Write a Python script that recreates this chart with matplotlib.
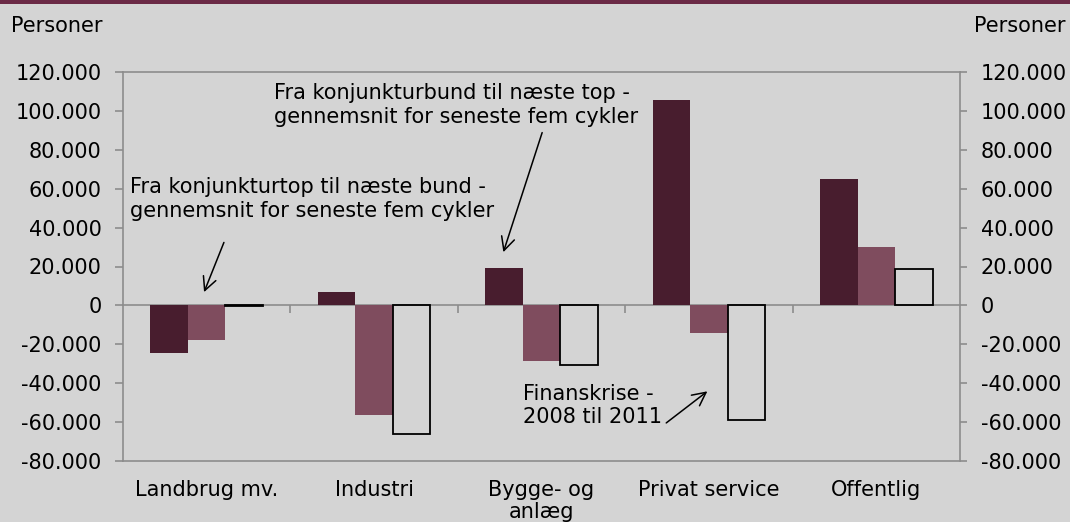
import numpy as np
import matplotlib
matplotlib.use("Agg")
import matplotlib.pyplot as plt
from matplotlib.patches import Rectangle
from matplotlib.ticker import FuncFormatter, MultipleLocator

# data
categories = ["Landbrug mv.", "Industri", "Bygge- og\nanlæg", "Privat service", "Offentlig"]
bund_til_top = [-24500, 6700, 19000, 105600, 65200]
top_til_bund = [-17600, -56100, -28400, -14000, 30000]
finanskrise = [-400, -66000, -30500, -58700, 18500]

BG = "#d4d4d4"
DARK = "#481d2e"
MAUVE = "#7f4c5e"
AXIS = "#8c8c8c"
FS = 15

plt.rcParams["font.family"] = ["DejaVu Sans"]
plt.rcParams["font.size"] = FS

fig = plt.figure(figsize=(10.7, 5.22), dpi=100, facecolor=BG)
ax = fig.add_axes([123 / 1070, 1 - 461 / 522, (960 - 123) / 1070, (461 - 72) / 522])
ax.set_facecolor(BG)

x = np.arange(len(categories))
w = 0.224
ax.bar(x - w, bund_til_top, w, color=DARK, zorder=2)
ax.bar(x, top_til_bund, w, color=MAUVE, zorder=2)
ax.bar(x + w, finanskrise, w, facecolor="none", edgecolor="black", lw=1.3, zorder=2)

ax.set_xlim(-0.5, len(categories) - 0.5)
ax.set_ylim(-80000, 120000)

for s in ax.spines.values():
    s.set_color(AXIS)
    s.set_linewidth(1.2)

fmt = FuncFormatter(lambda v, p: f"{int(v):,}".replace(",", "."))
ax.yaxis.set_major_locator(MultipleLocator(20000))
ax.yaxis.set_major_formatter(fmt)
ax.tick_params(axis="y", length=5.8, width=1.2, color=AXIS, pad=9.6, labelsize=FS)

axr = ax.twinx()
axr.set_ylim(ax.get_ylim())
axr.yaxis.set_major_locator(MultipleLocator(20000))
axr.yaxis.set_major_formatter(fmt)
axr.tick_params(axis="y", length=5.2, width=1.2, color=AXIS, pad=9.8, labelsize=FS)
for s in axr.spines.values():
    s.set_visible(False)

ax.set_xticks(x, categories)
ax.tick_params(axis="x", length=0, pad=13.5, labelsize=FS)
for lbl in ax.get_xticklabels():
    lbl.set_linespacing(1.15)

# zero line with category separators
zero = ax.secondary_xaxis(80000 / 200000)
zero.set_xticks(x[:-1] + 0.5)
zero.set_xticklabels([])
zero.tick_params(axis="x", direction="out", length=6, width=1.2, color=AXIS)
zero.spines["bottom"].set_color(AXIS)
zero.spines["bottom"].set_linewidth(1.2)

arrow = dict(arrowstyle="->", color="black", lw=1.1, mutation_scale=24)
ax.annotate("Fra konjunkturtop til næste bund -\ngennemsnit for seneste fem cykler",
            xy=(-0.022, 5500), xytext=(-0.46, 54500), ha="left", va="center",
            fontsize=FS, linespacing=1.25)
ax.annotate("", xy=(-0.022, 5500), xytext=(0.109, 33700), arrowprops=arrow)

ax.annotate("Fra konjunkturbund til næste top -\ngennemsnit for seneste fem cykler",
            xy=(1.767, 26000), xytext=(0.405, 103000), ha="left", va="center",
            fontsize=FS, linespacing=1.2)
ax.annotate("", xy=(1.767, 26000), xytext=(2.009, 90200), arrowprops=arrow)

ax.annotate("Finanskrise -\n2008 til 2011",
            xy=(3.004, -43300), xytext=(1.89, -51500), ha="left", va="center",
            fontsize=FS, linespacing=1.2)
ax.annotate("", xy=(3.004, -43300), xytext=(2.732, -61300), arrowprops=arrow)

fig.text(11 / 1070, 1 - 26 / 522, "Personer", ha="left", va="center", fontsize=FS)
fig.text(1066 / 1070, 1 - 26 / 522, "Personer", ha="right", va="center", fontsize=FS)

fig.add_artist(Rectangle((0, 1 - 4 / 522), 1, 4 / 522, transform=fig.transFigure,
                         color="#6b2a46", lw=0))

fig.savefig("out.png", dpi=100, facecolor=BG)
